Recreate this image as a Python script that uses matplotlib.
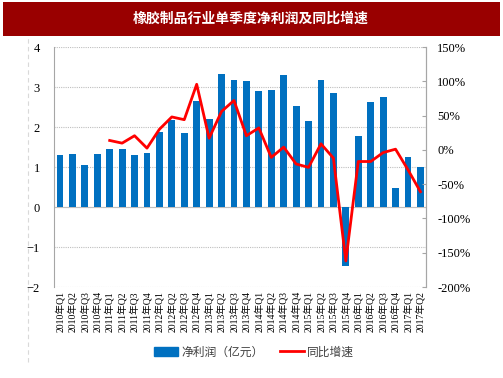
import matplotlib
matplotlib.use("Agg")
import matplotlib.pyplot as plt
from matplotlib.lines import Line2D
from matplotlib.patches import Rectangle
from matplotlib.ticker import FuncFormatter

plt.rcParams['font.family'] = ['Liberation Serif', 'Noto Sans CJK SC']

quarters = [f"{y}年Q{q}" for y in range(2010, 2018) for q in range(1, 5)][:30]
profit = [1.29, 1.33, 1.06, 1.33, 1.46, 1.46, 1.29, 1.35, 1.88, 2.17,
          1.85, 2.65, 2.20, 3.32, 3.17, 3.15, 2.90, 2.93, 3.29, 2.52,
          2.14, 3.18, 2.85, -1.48, 1.77, 2.63, 2.75, 0.48, 1.25, 1.00]
growth = [None, None, None, None, 13.7, 9.8, 20.6, 2.5, 30.0, 48.0,
          44.0, 95.6, 17.0, 56.0, 72.0, 20.6, 32.0, -11.0, 4.0, -20.6,
          -25.5, 8.8, -12.0, -162.0, -17.0, -17.0, -4.0, 1.0, -29.0, -61.0]

fig = plt.figure(figsize=(5.03, 3.78), dpi=100)

# title band
fig.add_artist(Rectangle((3/503, 1-36/378), 497/503, 34/378, transform=fig.transFigure,
                         facecolor='#990000', edgecolor='none'))
fig.text(251/503, 1-19/378, '橡胶制品行业单季度净利润及同比增速', color='white',
         fontsize=10, fontweight='bold', ha='center', va='center',
         family=['Noto Sans CJK SC'])
fig.add_artist(Line2D([28/503, 28/503], [1-362/378, 1-37/378], transform=fig.transFigure,
                      color='#d9d9d9', lw=0.8, ls=(0, (4, 3))))

ax = fig.add_axes([54/503, 1-287/378, 372/503, 240/378])
x = list(range(len(quarters)))
ax.bar(x, profit, width=0.55, color='#0070C0', zorder=2, label='净利润（亿元）')
ax.set_xlim(-0.48, 29.45)
ax.set_ylim(-2, 4)
ax.set_yticks(range(-2, 5))
ax.grid(axis='y', color='#bfbfbf', ls=(0, (1, 1)), lw=0.8, zorder=0)
ax.axhline(0, color='#bfbfbf', lw=0.8, zorder=1)
for s in ['top', 'bottom']:
    ax.spines[s].set_visible(False)
for s in ['left', 'right']:
    ax.spines[s].set_color('#a6a6a6')
ax.set_xticks(x)
ax.set_xticklabels(quarters, rotation=90, fontsize=7)
ax.tick_params(axis='x', length=0, pad=3)
ax.tick_params(axis='y', length=0, labelsize=9, pad=10)

ax2 = ax.twinx()
xs = [i for i, g in zip(x, growth) if g is not None]
gs = [g for g in growth if g is not None]
ax2.plot(xs, gs, color='#FF0000', lw=2, zorder=3, label='同比增速')
ax2.set_ylim(-200, 150)
ax2.set_yticks(range(-200, 151, 50))
ax2.yaxis.set_major_formatter(FuncFormatter(lambda v, p: f"{int(v)}%"))
ax2.tick_params(axis='y', direction='in', length=3, color='#a6a6a6', labelsize=9, pad=8)
for s in ['top', 'bottom', 'left']:
    ax2.spines[s].set_visible(False)
ax2.spines['right'].set_color('#a6a6a6')

handles = [Rectangle((0, 0), 1, 1, color='#0070C0'),
           Line2D([0], [0], color='#FF0000', lw=2)]
fig.legend(handles, ['净利润（亿元）', '同比增速'], loc='center',
           bbox_to_anchor=(254/503, 1-352/378), ncol=2, frameon=False,
           prop={'family': ['Noto Sans CJK SC'], 'size': 8.5},
           handlelength=2.0, columnspacing=1.4, handletextpad=0.3,
           labelcolor='#404040')

fig.savefig('out.png', dpi=100)
